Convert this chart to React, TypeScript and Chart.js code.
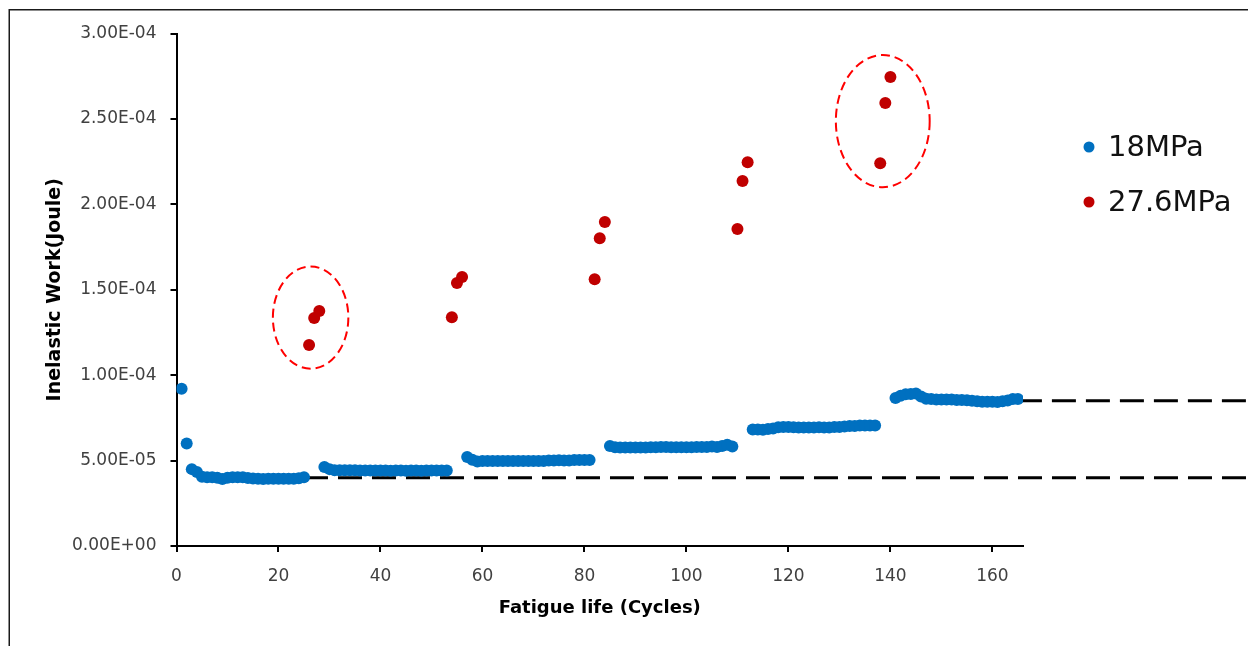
import React, { useEffect, useRef } from "react";
import { Chart, registerables } from "chart.js";

Chart.register(...registerables);

const FONT = "'DejaVu Sans', 'Liberation Sans', sans-serif";

// 18 MPa series: six blocks of consecutive cycles
const blockStartCycles = [1, 29, 57, 85, 113, 141];
const block1 = [9.2e-5, 6.0e-5, 4.5e-5, 4.33e-5, 4.05e-5, 4.03e-5, 4.02e-5, 4.0e-5, 3.92e-5, 4.0e-5, 4.03e-5, 4.03e-5, 4.02e-5, 3.98e-5, 3.95e-5, 3.93e-5, 3.92e-5, 3.93e-5, 3.93e-5, 3.93e-5, 3.93e-5, 3.93e-5, 3.93e-5, 3.96e-5, 4.03e-5];
const block2 = [4.63e-5, 4.5e-5, 4.43e-5, 4.43e-5, 4.43e-5, 4.43e-5, 4.43e-5, 4.42e-5, 4.42e-5, 4.42e-5, 4.42e-5, 4.42e-5, 4.42e-5, 4.4e-5, 4.42e-5, 4.42e-5, 4.4e-5, 4.42e-5, 4.42e-5, 4.4e-5, 4.42e-5, 4.42e-5, 4.42e-5, 4.42e-5, 4.42e-5];
const block3 = [5.21e-5, 5.05e-5, 4.95e-5, 4.97e-5, 4.97e-5, 4.98e-5, 4.98e-5, 4.98e-5, 4.98e-5, 4.98e-5, 4.98e-5, 4.98e-5, 4.98e-5, 4.98e-5, 4.98e-5, 4.98e-5, 5.0e-5, 5.0e-5, 5.02e-5, 5.0e-5, 5.0e-5, 5.03e-5, 5.03e-5, 5.03e-5, 5.03e-5];
const block4 = [5.85e-5, 5.78e-5, 5.77e-5, 5.77e-5, 5.77e-5, 5.77e-5, 5.77e-5, 5.77e-5, 5.78e-5, 5.78e-5, 5.8e-5, 5.8e-5, 5.78e-5, 5.78e-5, 5.78e-5, 5.78e-5, 5.78e-5, 5.8e-5, 5.8e-5, 5.8e-5, 5.82e-5, 5.8e-5, 5.85e-5, 5.92e-5, 5.82e-5];
const block5 = [6.82e-5, 6.82e-5, 6.8e-5, 6.85e-5, 6.88e-5, 6.95e-5, 6.97e-5, 6.97e-5, 6.95e-5, 6.93e-5, 6.93e-5, 6.93e-5, 6.93e-5, 6.95e-5, 6.93e-5, 6.93e-5, 6.97e-5, 6.97e-5, 7.0e-5, 7.02e-5, 7.03e-5, 7.05e-5, 7.05e-5, 7.05e-5, 7.05e-5];
const block6 = [8.67e-5, 8.8e-5, 8.88e-5, 8.9e-5, 8.93e-5, 8.75e-5, 8.62e-5, 8.6e-5, 8.58e-5, 8.58e-5, 8.57e-5, 8.57e-5, 8.55e-5, 8.55e-5, 8.53e-5, 8.5e-5, 8.48e-5, 8.45e-5, 8.45e-5, 8.45e-5, 8.43e-5, 8.48e-5, 8.52e-5, 8.6e-5, 8.6e-5];
const blocks18 = [block1, block2, block3, block4, block5, block6];

// 27.6 MPa series
const cycles276 = [26, 27, 28, 54, 55, 56, 82, 83, 84, 110, 111, 112, 138, 139, 140];
const values276 = [1.176e-4, 1.334e-4, 1.375e-4, 1.339e-4, 1.539e-4, 1.574e-4, 1.562e-4, 1.802e-4, 1.896e-4, 1.855e-4, 2.136e-4, 2.247e-4, 2.241e-4, 2.593e-4, 2.745e-4];

// dashed reference levels (start cycle, end cycle beyond axis, value)
const refStart = [25, 165];
const refEnd = [215, 215];
const refValue = [4.0e-5, 8.5e-5];

// highlight ellipses (center cycle, center value, radius cycles, radius value)
const ellipseCx = [26.3, 138.5];
const ellipseCy = [1.337e-4, 2.487e-4];
const ellipseRx = [7.4, 9.2];
const ellipseRy = [2.99e-5, 3.87e-5];

const seriesLabels = ["18MPa", "27.6MPa"];
const seriesColors = ["#0070C0", "#C00000"];

const fmtSci = (v: number) => {
  if (Math.abs(v) < 1e-12) return "0.00E+00";
  const [m, e] = v.toExponential(2).split("e");
  const n = parseInt(e, 10);
  return `${m}E${n < 0 ? "-" : "+"}${String(Math.abs(n)).padStart(2, "0")}`;
};

const decorPlugin = {
  id: "decor",
  beforeDraw(chart: any) {
    const ctx = chart.ctx;
    ctx.save();
    ctx.fillStyle = "#ffffff";
    ctx.fillRect(0, 0, chart.width, chart.height);
    ctx.strokeStyle = "#1a1a1a";
    ctx.lineWidth = 1.5;
    ctx.strokeRect(9.25, 9.75, chart.width + 100, chart.height + 100);
    ctx.restore();
  },
  afterDatasetsDraw(chart: any) {
    const ctx = chart.ctx;
    const xs = chart.scales.x;
    const ys = chart.scales.y;
    ctx.save();
    ctx.strokeStyle = "#FF0000";
    ctx.lineWidth = 2;
    ctx.setLineDash([9, 5]);
    for (let i = 0; i < ellipseCx.length; i++) {
      const cx = xs.getPixelForValue(ellipseCx[i]);
      const cy = ys.getPixelForValue(ellipseCy[i]);
      const rx = Math.abs(xs.getPixelForValue(ellipseCx[i] + ellipseRx[i]) - cx);
      const ry = Math.abs(ys.getPixelForValue(ellipseCy[i] + ellipseRy[i]) - cy);
      ctx.beginPath();
      ctx.ellipse(cx, cy, rx, ry, 0, 0, Math.PI * 2);
      ctx.stroke();
    }
    ctx.restore();
  },
  afterDraw(chart: any) {
    const ctx = chart.ctx;
    const area = chart.chartArea;
    const dotX = area.right + 66;
    const firstY = 147;
    const gap = 55;
    ctx.save();
    ctx.font = `29px ${FONT}`;
    ctx.textBaseline = "middle";
    ctx.textAlign = "left";
    seriesLabels.forEach((label, i) => {
      const y = firstY + i * gap;
      ctx.fillStyle = seriesColors[i];
      ctx.beginPath();
      ctx.arc(dotX, y, 5.5, 0, Math.PI * 2);
      ctx.fill();
      ctx.fillStyle = "#111111";
      ctx.fillText(label, dotX + 19, y + 1);
    });
    ctx.restore();
  },
};

export default function App() {
  const ref = useRef<HTMLCanvasElement | null>(null);

  useEffect(() => {
    if (!ref.current) return;
    const data18: { x: number; y: number }[] = [];
    blocks18.forEach((vals, b) => {
      vals.forEach((v, i) => data18.push({ x: blockStartCycles[b] + i, y: v }));
    });
    const data276 = cycles276.map((c, i) => ({ x: c, y: values276[i] }));
    const refSets = refValue.map((v, i) => ({
      label: `ref${i}`,
      data: [
        { x: refStart[i], y: v },
        { x: refEnd[i], y: v },
      ],
      showLine: true,
      borderColor: "#000000",
      borderWidth: 3,
      borderDash: [24, 10],
      pointRadius: 0,
      clip: false as any,
      order: 10,
    }));

    const chart = new Chart(ref.current, {
      type: "scatter",
      data: {
        datasets: [
          {
            label: seriesLabels[0],
            data: data18,
            backgroundColor: seriesColors[0],
            borderColor: seriesColors[0],
            pointRadius: 6,
            pointBorderWidth: 0,
            order: 1,
          },
          {
            label: seriesLabels[1],
            data: data276,
            backgroundColor: seriesColors[1],
            borderColor: seriesColors[1],
            pointRadius: 6,
            pointBorderWidth: 0,
            order: 2,
          },
          ...refSets,
        ] as any,
      },
      options: {
        animation: false,
        responsive: false,
        devicePixelRatio: 1,
        events: [],
        layout: { padding: { left: 0, top: 33.5, right: 225, bottom: 0 } },
        plugins: {
          legend: { display: false },
          tooltip: { enabled: false },
        },
        scales: {
          x: {
            type: "linear",
            min: 0,
            max: 166,
            afterFit: (s: any) => {
              s.height = 100;
            },
            grid: {
              display: true,
              drawOnChartArea: false,
              drawTicks: true,
              tickLength: 6,
              tickColor: "#000000",
              tickWidth: 2,
              lineWidth: 2,
              color: "#000000",
            },
            border: { display: true, color: "#000000", width: 2 },
            ticks: {
              stepSize: 20,
              includeBounds: false,
              padding: 14,
              maxRotation: 0,
              color: "#404040",
              font: { family: FONT, size: 17 },
            },
            title: {
              display: true,
              text: "Fatigue life (Cycles)",
              color: "#000000",
              font: { family: FONT, size: 18, weight: "bold" },
              padding: { top: 0, bottom: 27 },
            },
          },
          y: {
            type: "linear",
            min: 0,
            max: 3e-4,
            afterFit: (s: any) => {
              s.width = 176.5;
            },
            grid: {
              display: true,
              drawOnChartArea: false,
              drawTicks: true,
              tickLength: 6,
              tickColor: "#000000",
              tickWidth: 2,
              lineWidth: 2,
              color: "#000000",
            },
            border: { display: true, color: "#000000", width: 2 },
            ticks: {
              stepSize: 5e-5,
              padding: 14,
              color: "#404040",
              font: { family: FONT, size: 17 },
              callback: (v: any) => fmtSci(Number(v)),
            },
            title: {
              display: true,
              text: "Inelastic Work(Joule)",
              color: "#000000",
              font: { family: FONT, size: 19, weight: "bold" },
              padding: { top: 44, bottom: 0 },
            },
          },
        },
      } as any,
      plugins: [decorPlugin],
    });
    return () => chart.destroy();
  }, []);

  return (
    <div
      style={{
        position: "fixed",
        left: 0,
        top: 0,
        width: 1248,
        height: 646,
        overflow: "hidden",
        background: "#fff",
      }}
    >
      <canvas ref={ref} width={1248} height={646} style={{ display: "block" }} />
    </div>
  );
}
